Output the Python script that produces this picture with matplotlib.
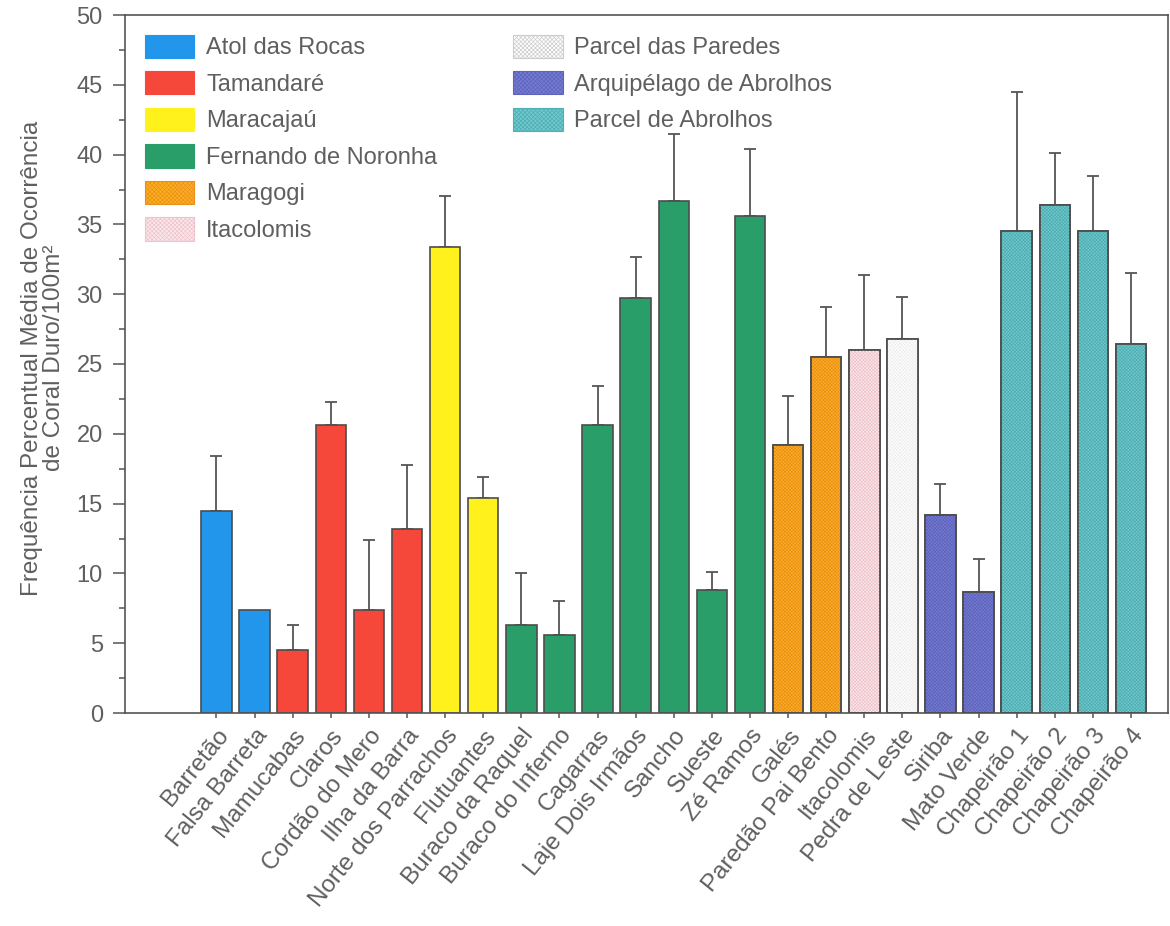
import numpy as np
import matplotlib
matplotlib.use("Agg")
import matplotlib.pyplot as plt
import matplotlib.transforms as mtransforms
from matplotlib.patches import Patch
from matplotlib.ticker import MultipleLocator

plt.rcParams["font.family"] = ["Liberation Sans", "DejaVu Sans"]
plt.rcParams["hatch.linewidth"] = 0.5

# Sampling sites (x axis) and the region each one belongs to
sites = [
    "Barretão", "Falsa Barreta", "Mamucabas", "Claros", "Cordão do Mero",
    "Ilha da Barra", "Norte dos Parrachos", "Flutuantes", "Buraco da Raquel",
    "Buraco do Inferno", "Cagarras", "Laje Dois Irmãos", "Sancho", "Sueste",
    "Zé Ramos", "Galés", "Paredão Pai Bento", "Itacolomis", "Pedra de Leste",
    "Siriba", "Mato Verde", "Chapeirão 1", "Chapeirão 2", "Chapeirão 3",
    "Chapeirão 4",
]
site_region = [
    "Atol das Rocas", "Atol das Rocas",
    "Tamandaré", "Tamandaré", "Tamandaré", "Tamandaré",
    "Maracajaú", "Maracajaú",
    "Fernando de Noronha", "Fernando de Noronha", "Fernando de Noronha",
    "Fernando de Noronha", "Fernando de Noronha", "Fernando de Noronha",
    "Fernando de Noronha",
    "Maragogi", "Maragogi",
    "Itacolomis",
    "Parcel das Paredes",
    "Arquipélago de Abrolhos", "Arquipélago de Abrolhos",
    "Parcel de Abrolhos", "Parcel de Abrolhos", "Parcel de Abrolhos",
    "Parcel de Abrolhos",
]

# Mean hard-coral cover per 100 m² and upper error (None = no bar drawn)
mean_cover = [14.5, 7.4, 4.5, 20.6, 7.4, 13.2, 33.4, 15.4, 6.3, 5.6, 20.6,
              29.7, 36.7, 8.8, 35.6, 19.2, 25.5, 26.0, 26.8, 14.2, 8.7,
              34.5, 36.4, 34.5, 26.4]
upper_err = [3.9, None, 1.8, 1.7, 5.0, 4.6, 3.6, 1.5, 3.7, 2.4, 2.8,
             3.0, 4.8, 1.3, 4.8, 3.5, 3.6, 5.4, 3.0, 2.2, 2.3,
             10.0, 3.7, 4.0, 5.1]

# Legend layout: two columns of regions
legend_col1 = ["Atol das Rocas", "Tamandaré", "Maracajaú",
               "Fernando de Noronha", "Maragogi", "Itacolomis"]
legend_col2 = ["Parcel das Paredes", "Arquipélago de Abrolhos",
               "Parcel de Abrolhos"]

y_label = "Frequência Percentual Média de Ocorrência\nde Coral Duro/100m²"

# Region styling: face colour, texture colour (None = plain fill)
region_style = {
    "Atol das Rocas": ("#2196EA", None),
    "Tamandaré": ("#F5473A", None),
    "Maracajaú": ("#FFF21C", None),
    "Fernando de Noronha": ("#2A9E68", None),
    "Maragogi": ("#FFB020", "#E8901A"),
    "Itacolomis": ("#FCE8EC", "#EDC4CC"),
    "Parcel das Paredes": ("#FFFFFF", "#EEEEEE"),
    "Arquipélago de Abrolhos": ("#767BD2", "#5E63BC"),
    "Parcel de Abrolhos": ("#70C9CC", "#4FAEB2"),
}

ink = "#555555"
text_ink = "#5f5f5f"
edge = "#4d4d4d"

fig = plt.figure(figsize=(11.70, 9.26), dpi=100)
ax = fig.add_axes([125 / 1170, 1 - 713 / 926, 1043 / 1170, 698 / 926])

x = np.arange(len(sites))
faces = [region_style[r][0] for r in site_region]
ax.bar(x, mean_cover, width=0.8, color=faces, edgecolor=edge,
       linewidth=1.2, zorder=2)

# Fine cross-hatch texture on the textured regions
for xi, v, r in zip(x, mean_cover, site_region):
    tex = region_style[r][1]
    if tex is not None:
        ax.bar(xi, v, width=0.8, facecolor="none", edgecolor=tex,
               linewidth=0, hatch="xxxxxxxxxx", zorder=2.5)
        ax.bar(xi, v, width=0.8, facecolor="none", edgecolor=edge,
               linewidth=1.2, zorder=2.6)

# Upper error bars only
ex = [xi for xi, e in zip(x, upper_err) if e is not None]
ey = [m for m, e in zip(mean_cover, upper_err) if e is not None]
ee = [e for e in upper_err if e is not None]
ax.errorbar(ex, ey, yerr=[np.zeros(len(ee)), ee], fmt="none", ecolor=ink,
            elinewidth=1.3, capsize=4, capthick=1.3, zorder=1)

ax.set_xlim(-2.4, len(sites) - 0.03)
ax.set_ylim(0, 50)
ax.yaxis.set_major_locator(MultipleLocator(5))
ax.yaxis.set_minor_locator(MultipleLocator(2.5))
ax.set_xticks(x)
ax.set_xticklabels(sites, rotation=51, ha="right", va="top",
                   rotation_mode="anchor", fontsize=17.5, color=text_ink)
# nudge the slanted site names a little to the right of their ticks
shift = mtransforms.ScaledTranslation(0.06, 0, fig.dpi_scale_trans)
for lab in ax.get_xticklabels():
    lab.set_transform(lab.get_transform() + shift)
ax.tick_params(axis="y", which="major", direction="out", length=9, width=1.1,
               color=ink, labelsize=17, labelcolor=text_ink, pad=7)
ax.tick_params(axis="y", which="minor", direction="out", length=4.5,
               width=1.1, color=ink)
ax.tick_params(axis="x", which="major", direction="out", length=3.5,
               width=1.1, color=ink, pad=5)
for s in ax.spines.values():
    s.set_color(ink)
    s.set_linewidth(1.2)

fig.text(43 / 1170, 1 - 358 / 926, y_label, rotation=90, ha="center",
         va="center", multialignment="center", fontsize=17.5, color=text_ink,
         linespacing=1.0)


def region_handles(names):
    hs = []
    for n in names:
        fc, tex = region_style[n]
        ec = tex if tex is not None else fc
        if n == "Parcel das Paredes":
            ec = "#cccccc"
        hs.append(Patch(facecolor=fc, edgecolor=ec, linewidth=0.8,
                        hatch="xxxxxxxx" if tex is not None else None))
    return hs


leg_kw = dict(frameon=False, fontsize=17, handlelength=2.1, handleheight=1.15,
              handletextpad=0.5, labelspacing=0.50, borderpad=0,
              borderaxespad=0, loc="upper left", labelcolor=text_ink)
leg1 = ax.legend(region_handles(legend_col1), legend_col1,
                 bbox_to_anchor=(0.019, 0.972), **leg_kw)
ax.add_artist(leg1)
ax.legend(region_handles(legend_col2), legend_col2,
          bbox_to_anchor=(0.372, 0.972), **leg_kw)

fig.savefig("out.png", dpi=100, facecolor="white")
